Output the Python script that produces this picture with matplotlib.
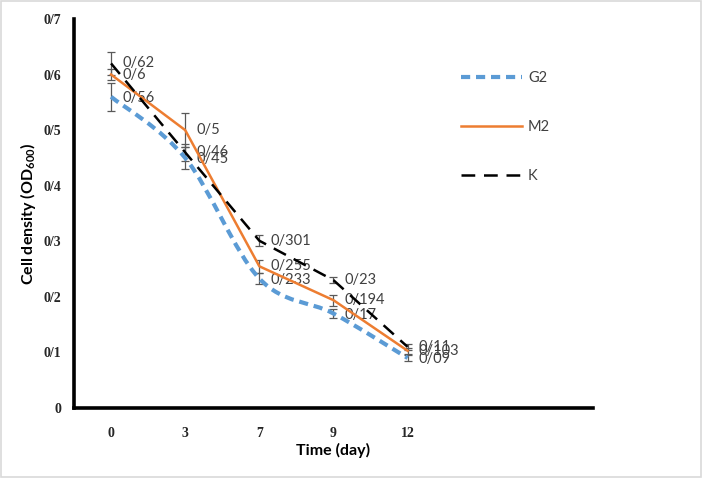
import numpy as np
import matplotlib
matplotlib.use("Agg")
import matplotlib.pyplot as plt
from matplotlib.path import Path
from matplotlib.patches import PathPatch, Rectangle
from matplotlib.lines import Line2D

days = ["0", "3", "7", "9", "12"]
g2 = [0.56, 0.45, 0.233, 0.17, 0.09]
m2 = [0.6, 0.5, 0.255, 0.194, 0.103]
k = [0.62, 0.46, 0.301, 0.23, 0.11]
g2_err = [0.025, 0.02, 0.01, 0.008, 0.006]
m2_err = [0.01, 0.03, 0.012, 0.01, 0.005]
k_err = [0.02, 0.015, 0.01, 0.005, 0.005]
g2_lbl = ["0/56", "0/45", "0/233", "0/17", "0/09"]
m2_lbl = ["0/6", "0/5", "0/255", "0/194", "0/103"]
k_lbl = ["0/62", "0/46", "0/301", "0/23", "0/11"]
yticks = [0, 0.1, 0.2, 0.3, 0.4, 0.5, 0.6, 0.7]
ytick_lbl = ["0", "0/1", "0/2", "0/3", "0/4", "0/5", "0/6", "0/7"]

blue = "#5B9BD5"
orange = "#ED7D31"
lab_font = "Lato"

def smooth_path(x, y):
    # Catmull-Rom style bezier like Excel's smoothed line
    pts = np.column_stack([x, y]).astype(float)
    verts = [pts[0]]
    codes = [Path.MOVETO]
    n = len(pts)
    for i in range(n - 1):
        p0 = pts[max(i - 1, 0)]
        p1 = pts[i]
        p2 = pts[i + 1]
        p3 = pts[min(i + 2, n - 1)]
        c1 = p1 + (p2 - p0) / 6.0
        c2 = p2 - (p3 - p1) / 6.0
        verts += [c1, c2, p2]
        codes += [Path.CURVE4] * 3
    return Path(verts, codes)

fig = plt.figure(figsize=(7.02, 4.78), dpi=100)
fig.patches.append(Rectangle((0.002, 0.003), 0.996, 0.994, transform=fig.transFigure,
                             fill=False, edgecolor="#d9d9d9", lw=1.2))
ax = fig.add_axes([0.1054, 0.1464, 0.7393, 0.8139])

x = np.arange(len(days))

ax.errorbar(x, g2, yerr=g2_err, fmt="none", ecolor="#595959", elinewidth=0.9, capsize=3, capthick=0.9, zorder=2)
ax.errorbar(x, m2, yerr=m2_err, fmt="none", ecolor="#595959", elinewidth=0.9, capsize=3, capthick=0.9, zorder=2)
ax.errorbar(x, k, yerr=k_err, fmt="none", ecolor="#595959", elinewidth=0.9, capsize=3, capthick=0.9, zorder=2)

ax.add_patch(PathPatch(smooth_path(x, g2), fill=False, edgecolor=blue, lw=3.0,
                       linestyle=(0, (2.2, 1.4)), capstyle="butt", zorder=3))
ax.plot(x, m2, color=orange, lw=1.8, zorder=4)
ax.plot(x, k, color="black", lw=1.8, dashes=(5.5, 3.5), zorder=5)

for xi, v, s in zip(x, k, k_lbl):
    ax.annotate(s, (xi, v), xytext=(8, 0), textcoords="offset points", va="center", ha="left",
                fontsize=10.5, color="#404040", family=lab_font)
for xi, v, s in zip(x, m2, m2_lbl):
    ax.annotate(s, (xi, v), xytext=(8, 0), textcoords="offset points", va="center", ha="left",
                fontsize=10.5, color="#404040", family=lab_font)
for xi, v, s in zip(x, g2, g2_lbl):
    ax.annotate(s, (xi, v), xytext=(8, -1), textcoords="offset points", va="center", ha="left",
                fontsize=10.5, color="#404040", family=lab_font)

ax.set_xlim(-0.5, 6.5)
ax.set_ylim(0, 0.7)
ax.set_xticks(x)
ax.set_xticklabels(days)
ax.set_yticks(yticks)
ax.set_yticklabels(ytick_lbl)
for t in ax.get_xticklabels() + ax.get_yticklabels():
    t.set_family("Liberation Serif")
    t.set_fontweight("bold")
    t.set_fontsize(10)
    t.set_color("#262626")
ax.tick_params(axis="x", length=0, pad=14)
ax.tick_params(axis="y", length=0, pad=9)

for s in ["top", "right"]:
    ax.spines[s].set_visible(False)
for s in ["left", "bottom"]:
    ax.spines[s].set_linewidth(2.6)
    ax.spines[s].set_color("black")

ax.set_xlabel("Time (day)", family=lab_font, fontweight="bold", fontsize=11.5, labelpad=2)
ax.set_ylabel("Cell density (OD$_{\\mathregular{600}}$)", family=lab_font, fontweight="bold",
              fontsize=11.5, labelpad=4)

handles = [Line2D([], [], color=blue, lw=3.0, dashes=(2.2, 1.4)),
           Line2D([], [], color=orange, lw=1.8),
           Line2D([], [], color="black", lw=1.8, dashes=(5.5, 3.5))]
leg = fig.legend(handles, ["G2", "M2", "K"], loc="upper left", bbox_to_anchor=(0.638, 0.878),
                 frameon=False, handlelength=4.2, labelspacing=2.4, handletextpad=0.4,
                 prop={"family": lab_font, "size": 10.5})
for t in leg.get_texts():
    t.set_color("#404040")

fig.savefig("out.png", dpi=100)
